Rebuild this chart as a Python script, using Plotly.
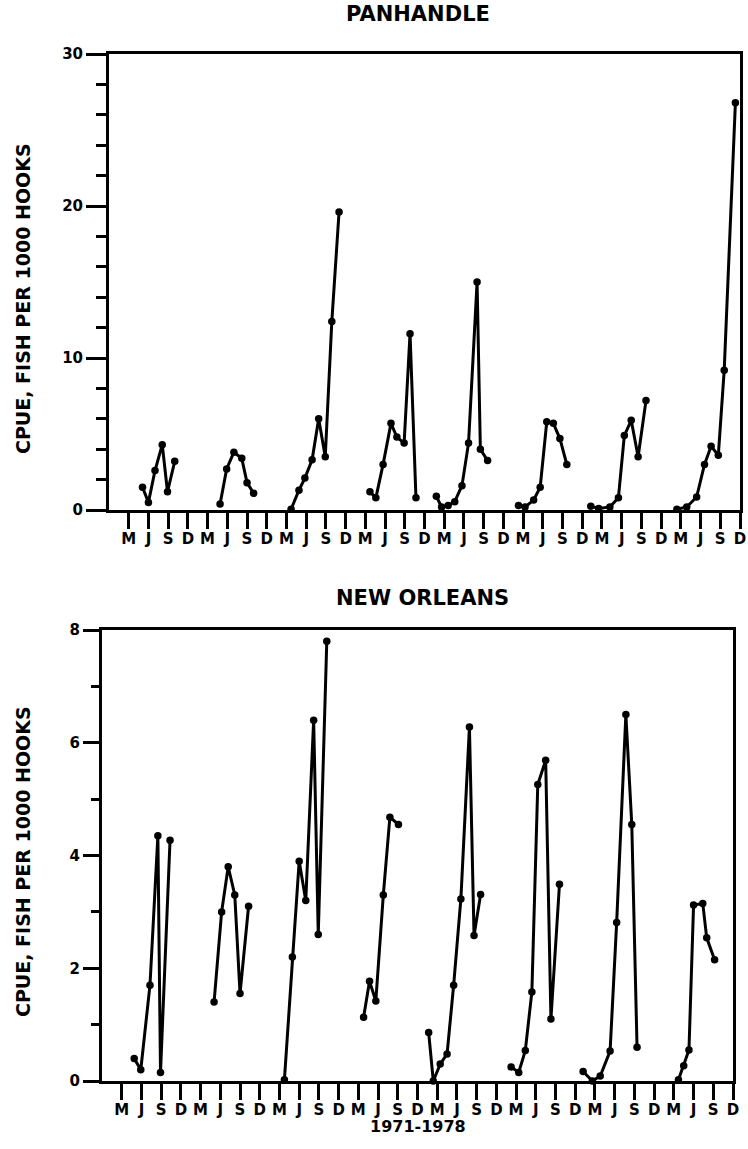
import plotly.graph_objects as go

# x = month of year (1 = Jan), per sampling year
YEARS = [1971, 1972, 1973, 1974, 1975, 1976, 1977, 1978]

# PANHANDLE: months and CPUE values per year
pan_month = {
    1971: [5.1, 6.0, 7.0, 8.1, 8.9, 10.0],
    1972: [4.9, 5.9, 7.0, 8.2, 9.0, 10.0],
    1973: [3.7, 4.9, 5.8, 6.9, 7.9, 8.9, 9.9, 11.0],
    1974: [3.7, 4.6, 5.7, 6.9, 7.8, 8.9, 9.8, 10.7],
    1975: [1.8, 2.6, 3.6, 4.6, 5.7, 6.7, 8.0, 8.5, 9.6],
    1976: [2.3, 3.3, 4.6, 5.6, 6.6, 7.6, 8.6, 9.65],
    1977: [1.3, 2.5, 4.2, 5.5, 6.4, 7.45, 8.5, 9.7],
    1978: [2.4, 3.9, 5.4, 6.6, 7.6, 8.7, 9.6, 11.3],
}
pan_cpue = {
    1971: [1.5, 0.5, 2.6, 4.3, 1.2, 3.2],
    1972: [0.4, 2.7, 3.8, 3.4, 1.8, 1.1],
    1973: [0.05, 1.3, 2.1, 3.3, 6.0, 3.5, 12.4, 19.6],
    1974: [1.2, 0.8, 3.0, 5.7, 4.8, 4.4, 11.6, 0.8],
    1975: [0.9, 0.2, 0.3, 0.55, 1.6, 4.4, 15.0, 4.0, 3.25],
    1976: [0.3, 0.2, 0.65, 1.5, 5.8, 5.7, 4.7, 3.0],
    1977: [0.25, 0.1, 0.2, 0.8, 4.9, 5.9, 3.5, 7.2],
    1978: [0.05, 0.2, 0.85, 3.0, 4.2, 3.6, 9.2, 26.8],
}

# NEW ORLEANS: months and CPUE values per year
no_month = {
    1971: [4.9, 5.9, 7.3, 8.5, 8.9, 10.35],
    1972: [5.05, 6.2, 7.2, 8.2, 9.0, 10.3],
    1973: [3.75, 4.96, 6.0, 7.0, 8.2, 8.9, 10.2],
    1974: [3.8, 4.7, 5.66, 6.8, 7.8, 9.1],
    1975: [1.7, 2.4, 3.45, 4.5, 5.5, 6.6, 7.9, 8.6, 9.6],
    1976: [2.25, 3.4, 4.4, 5.4, 6.3, 7.5, 8.3, 9.6],
    1977: [1.2, 2.6, 3.8, 5.3, 6.3, 7.7, 8.6, 9.4],
    1978: [3.7, 4.5, 5.3, 6.0, 7.4, 8.0, 9.2],
}
no_cpue = {
    1971: [0.4, 0.2, 1.7, 4.35, 0.15, 4.27],
    1972: [1.4, 3.0, 3.8, 3.3, 1.55, 3.1],
    1973: [0.02, 2.2, 3.9, 3.2, 6.4, 2.6, 7.8],
    1974: [1.13, 1.77, 1.42, 3.3, 4.68, 4.55],
    1975: [0.86, 0.0, 0.3, 0.48, 1.7, 3.23, 6.28, 2.58, 3.31],
    1976: [0.25, 0.15, 0.54, 1.58, 5.26, 5.69, 1.1, 3.49],
    1977: [0.17, 0.0, 0.09, 0.53, 2.81, 6.5, 4.55, 0.6],
    1978: [0.02, 0.27, 0.55, 3.12, 3.15, 2.54, 2.15],
}

TICK_MONTHS = [3, 6, 9, 12]
TICK_LETTERS = ["M", "J", "S", "D"]
PANEL_TITLES = ["PANHANDLE", "NEW ORLEANS"]
Y_TITLE = "CPUE, FISH PER 1000 HOOKS"
X_TITLE = "1971-1978"


def mx(year, month):
    return (year - YEARS[0]) * 12 + (month - 1)


tickvals = [mx(y, m) for y in YEARS for m in TICK_MONTHS]
ticktext = [TICK_LETTERS[i % 4] for i in range(len(tickvals))]

FONT = "DejaVu Sans, Liberation Sans"
W, H = 748, 1149

fig = go.Figure()
for panel, (months, cpue) in enumerate([(pan_month, pan_cpue), (no_month, no_cpue)]):
    xa = "x" if panel == 0 else "x2"
    ya = "y" if panel == 0 else "y2"
    for y in YEARS:
        fig.add_trace(go.Scatter(
            x=[mx(y, m) for m in months[y]], y=cpue[y],
            xaxis=xa, yaxis=ya, mode="lines+markers",
            line=dict(color="black", width=3),
            marker=dict(color="black", size=7.5),
            cliponaxis=False, showlegend=False, hoverinfo="skip"))

xcommon = dict(range=[mx(1970, 12), mx(1978, 12)], tickvals=tickvals, ticktext=ticktext,
               ticks="outside", ticklen=16, tickwidth=2.5, tickcolor="black",
               showline=True, linecolor="black", linewidth=3, mirror=True,
               showgrid=False, zeroline=False, automargin=False, ticklabelstandoff=-3,
               tickfont=dict(family=FONT, size=15, color="black", weight="bold"))
ycommon = dict(ticks="outside", tickwidth=2.5, tickcolor="black",
               showline=True, linecolor="black", linewidth=3, mirror=True,
               showgrid=False, zeroline=False, automargin=False,
               tickfont=dict(family=FONT, size=15, color="black", weight="bold"))

top = (1 - 510 / H, 1 - 54 / H)
bot = (1 - 1081 / H, 1 - 630 / H)

fig.update_layout(
    template="none",
    width=W, height=H, margin=dict(l=0, r=0, t=0, b=0, pad=0),
    paper_bgcolor="white", plot_bgcolor="white",
    xaxis=dict(domain=[109 / W, 740 / W], anchor="y", **xcommon),
    yaxis=dict(domain=list(top), anchor="x", range=[0, 30], tickvals=[0, 10, 20, 30],
               ticktext=["0", "10", "20", "30"], ticklen=20,
               minor=dict(dtick=2, ticks="outside", ticklen=10, tickwidth=2.5, tickcolor="black"),
               **ycommon),
    xaxis2=dict(domain=[102 / W, 733 / W], anchor="y2", **xcommon),
    yaxis2=dict(domain=list(bot), anchor="x2", range=[0, 8], tickvals=[0, 2, 4, 6, 8],
                ticktext=["0", "2", "4", "6", "8"], ticklen=16,
                minor=dict(dtick=1, ticks="outside", ticklen=8, tickwidth=2.5, tickcolor="black"),
                **ycommon),
)

ann_font = dict(family=FONT, color="black", weight="bold")
common_ann = dict(xref="paper", yref="paper", showarrow=False, xanchor="center", yanchor="middle")
fig.add_annotation(text=PANEL_TITLES[0], x=418 / W, y=1 - 14 / H,
                   font=dict(size=21, **ann_font), **common_ann)
fig.add_annotation(text=PANEL_TITLES[1], x=422 / W, y=1 - 598 / H,
                   font=dict(size=21, **ann_font), **common_ann)
fig.add_annotation(text=Y_TITLE, x=23 / W, y=1 - 299 / H, textangle=-90,
                   font=dict(size=19, **ann_font), **common_ann)
fig.add_annotation(text=Y_TITLE, x=23 / W, y=1 - 862 / H, textangle=-90,
                   font=dict(size=19, **ann_font), **common_ann)
fig.add_annotation(text=X_TITLE, x=418 / W, y=1 - 1126 / H,
                   font=dict(size=16, **ann_font), **common_ann)

fig.write_html("out.html", config={"displayModeBar": False},
               post_script="document.body.style.margin='0px';")
